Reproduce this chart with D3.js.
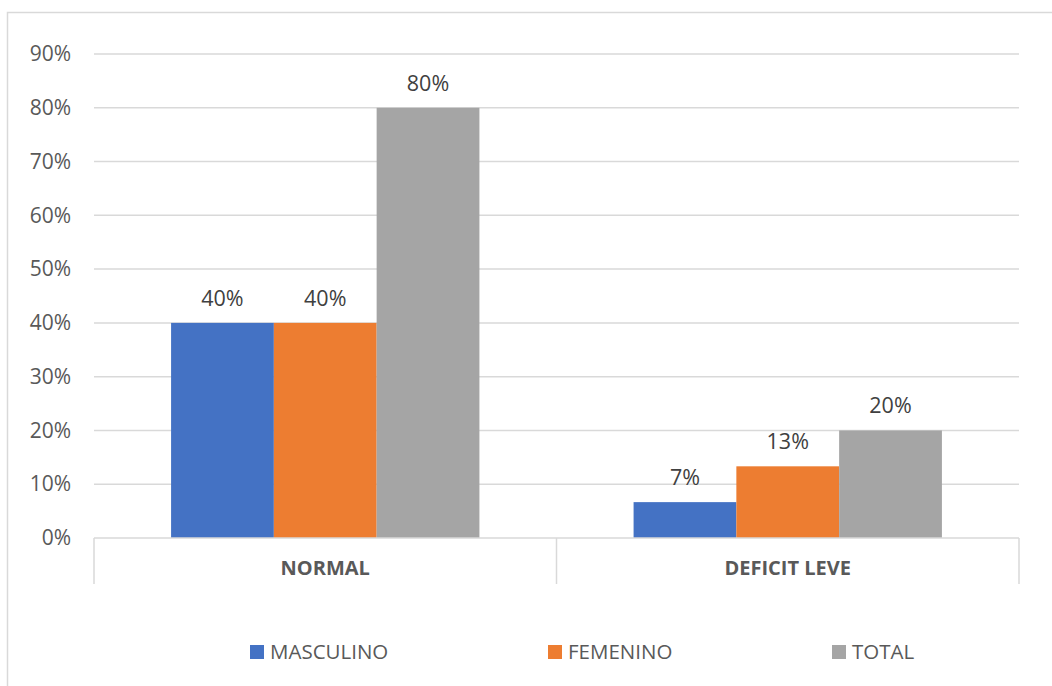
<!DOCTYPE html>
<html>
<head>
<meta charset="utf-8">
<script src="https://cdn.jsdelivr.net/npm/d3@7"></script>
<style>
  html, body { margin: 0; padding: 0; background: #fff; }
  svg { display: block; font-family: "Open Sans", sans-serif; }
</style>
</head>
<body>
<svg id="chart" width="1052" height="686"></svg>
<script>
// Categories, series and values (shares of the total sample)
const categories = ["NORMAL", "DEFICIT LEVE"];
const seriesNames = ["MASCULINO", "FEMENINO", "TOTAL"];
const masculino = [0.40, 0.0667];
const femenino = [0.40, 0.1333];
const total = [0.80, 0.20];
const yTicks = [0, 0.1, 0.2, 0.3, 0.4, 0.5, 0.6, 0.7, 0.8, 0.9];
const colors = ["#4472C4", "#ED7D31", "#A5A5A5"];

const seriesValues = [masculino, femenino, total];

const svg = d3.select("#chart");
const textColor = "#595959";
const gridColor = "#D9D9D9";

// Outer chart frame
svg.append("rect")
  .attr("x", 7.5).attr("y", 12.5)
  .attr("width", 1060).attr("height", 690)
  .attr("fill", "none").attr("stroke", gridColor).attr("stroke-width", 1.5);

const plot = { left: 94, right: 1019, top: 54, bottom: 538 };

const x0 = d3.scaleBand().domain(categories).range([plot.left, plot.right]).padding(0);
const x1 = d3.scaleBand().domain(seriesNames).range([0, x0.bandwidth()])
  .paddingInner(0).paddingOuter(0.75);
const y = d3.scaleLinear().domain([0, 0.9]).range([plot.bottom, plot.top]);

const pct = d3.format(".0%");

// Horizontal gridlines
svg.append("g").selectAll("line")
  .data(yTicks.filter(t => t > 0))
  .join("line")
  .attr("x1", plot.left).attr("x2", plot.right)
  .attr("y1", d => y(d)).attr("y2", d => y(d))
  .attr("stroke", gridColor).attr("stroke-width", 1.5);

// Y axis labels
const yAxis = svg.append("g")
  .attr("transform", `translate(${plot.left - 23},0)`)
  .call(d3.axisLeft(y).tickValues(yTicks).tickFormat(pct).tickSize(0).tickPadding(0));
yAxis.select(".domain").remove();
yAxis.selectAll("text")
  .attr("fill", textColor)
  .style("font-size", "21px")
  .style("font-family", "'Open Sans', sans-serif");

// Bars
const groups = svg.append("g").selectAll("g")
  .data(categories)
  .join("g")
  .attr("transform", d => `translate(${x0(d)},0)`);

groups.selectAll("rect")
  .data((c, ci) => seriesNames.map((s, si) => ({ s, si, v: seriesValues[si][ci] })))
  .join("rect")
  .attr("x", d => x1(d.s))
  .attr("width", x1.bandwidth())
  .attr("y", d => y(d.v))
  .attr("height", d => y(0) - y(d.v))
  .attr("fill", d => colors[d.si]);

// Value labels
groups.selectAll("text")
  .data((c, ci) => seriesNames.map((s, si) => ({ s, si, v: seriesValues[si][ci] })))
  .join("text")
  .attr("x", d => x1(d.s) + x1.bandwidth() / 2)
  .attr("y", d => y(d.v) - 17)
  .attr("text-anchor", "middle")
  .attr("fill", "#404040")
  .style("font-size", "21.5px")
  .text(d => pct(d.v));

// Category axis: baseline, group separators and labels
const xAxis = svg.append("g");
xAxis.append("line")
  .attr("x1", plot.left).attr("x2", plot.right)
  .attr("y1", plot.bottom).attr("y2", plot.bottom)
  .attr("stroke", gridColor).attr("stroke-width", 1.5);
const edges = categories.map(c => x0(c)).concat([x0(categories[categories.length - 1]) + x0.bandwidth()]);
xAxis.selectAll("line.sep")
  .data(edges)
  .join("line")
  .attr("class", "sep")
  .attr("x1", d => d).attr("x2", d => d)
  .attr("y1", plot.bottom).attr("y2", plot.bottom + 46)
  .attr("stroke", gridColor).attr("stroke-width", 1.5);
xAxis.selectAll("text")
  .data(categories)
  .join("text")
  .attr("x", d => x0(d) + x0.bandwidth() / 2)
  .attr("y", plot.bottom + 30)
  .attr("text-anchor", "middle")
  .attr("dy", "0.35em")
  .attr("fill", textColor)
  .style("font-size", "20px")
  .style("font-weight", "bold")
  .text(d => d);

// Legend
const legendX = [250, 548, 832];
const legend = svg.append("g").selectAll("g")
  .data(seriesNames)
  .join("g")
  .attr("transform", (d, i) => `translate(${legendX[i]},652)`);
legend.append("rect")
  .attr("x", 0).attr("y", -7)
  .attr("width", 14).attr("height", 14)
  .attr("fill", (d, i) => colors[i]);
legend.append("text")
  .attr("x", 20).attr("y", 0)
  .attr("dy", "0.35em")
  .attr("fill", textColor)
  .style("font-size", "20.5px")
  .text(d => d);
</script>
</body>
</html>
